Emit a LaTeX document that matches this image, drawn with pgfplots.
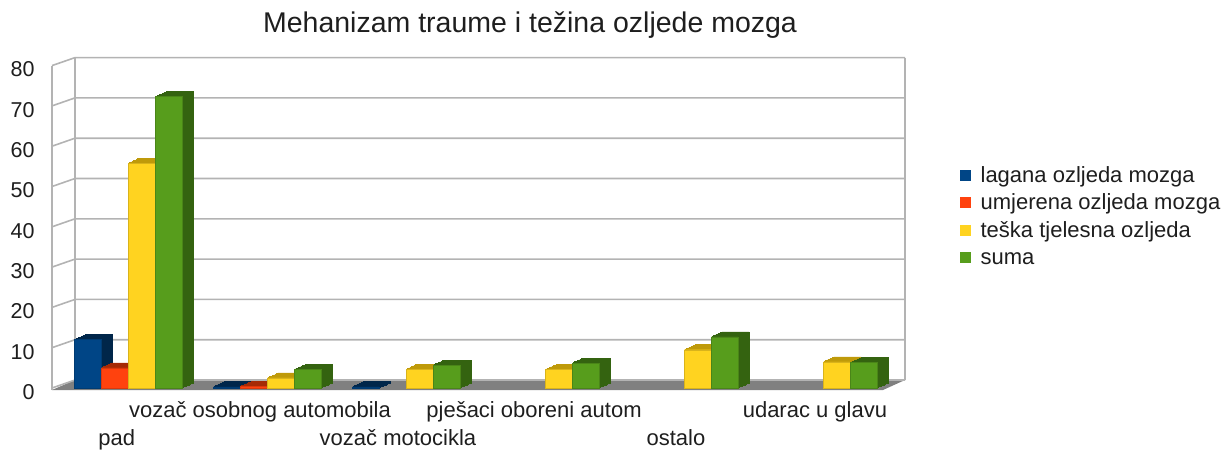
\documentclass[border=0pt]{standalone}
\usepackage{fontspec}
\setmainfont{Liberation Sans}
\usepackage{pgfplots}
\usepackage{pgfplotstable}
\pgfplotsset{compat=1.18}

\definecolor{cblue}{HTML}{004586}
\definecolor{cbluedk}{HTML}{00264A}
\definecolor{corange}{HTML}{FF420E}
\definecolor{corangedk}{HTML}{A52A06}
\definecolor{cyellow}{HTML}{FFD320}
\definecolor{cyellowdk}{HTML}{BF9A0A}
\definecolor{cgreen}{HTML}{579D1C}
\definecolor{cgreendk}{HTML}{346310}
\definecolor{cgrid}{HTML}{B3B3B3}
\definecolor{cfloor}{HTML}{808080}
\definecolor{ctext}{HTML}{1E1E1E}

% x: 0 pad, 1 vozac osobnog automobila, 2 vozac motocikla, 3 pjesaci oboreni autom, 4 ostalo, 5 udarac u glavu
\pgfplotstableread{
x y
0 12
1 0.3
2 0.3
}\lagana
\pgfplotstableread{
x y
0 5
1 0.4
}\umjerena
\pgfplotstableread{
x y
0 55.8
1 2.5
2 4.7
3 4.6
4 9.5
5 6.5
}\teska
\pgfplotstableread{
x y
0 72.3
1 4.6
2 5.7
3 6.2
4 12.7
5 6.3
}\suma

\newcommand{\barser}[5]{%
  \pgfplotsinvokeforeach{1,...,8}{%
    \addplot[forget plot, fill=#3, draw=#3, line width=0.6pt, bar shift=#4,
      xshift=##1*1.375pt, yshift=##1*0.625pt] table[x=x,y=y]{#1};}
  \addplot[fill=#2, draw=#2!85!black, line width=0.4pt, bar shift=#4,
    legend image code/.code={\fill[#2] (0pt,-3pt) rectangle (10pt,7pt);}]
    table[x=x,y=y]{#1};
  \addlegendentry{#5}
}
% wall grid line: front value, back value
\newcommand{\gl}[2]{\draw[cgrid, line width=1.6pt] (axis cs:-0.5468,#1) -- (axis cs:-0.3813,#2) -- (axis cs:5.5899,#2);}

\begin{document}
\begin{tikzpicture}
\begin{axis}[
  set layers,
  at={(52pt,68pt)}, anchor=south west,
  scale only axis,
  width=853pt, height=322.4pt,
  xmin=-0.5468, xmax=5.5899,
  ymin=0, ymax=80,
  clip=false,
  ybar, bar width=27pt,
  axis line style={draw=none},
  major tick length=0pt,
  ytick={0,10,...,80},
  /pgf/number format/assume math mode=true,
  yticklabel style={font=\fontsize{21.5}{25}\selectfont, text=ctext, xshift=-14pt, yshift=-4pt},
  xtick={0.95,2.921,4.942},
  xticklabels={vozač osobnog automobila, pješaci oboreni autom, udarac u glavu},
  extra x ticks={-0.081,1.942,3.942},
  extra x tick labels={pad, vozač motocikla, ostalo},
  xticklabel style={font=\fontsize{22}{26}\selectfont, text=ctext, anchor=base, yshift=-29pt},
  extra x tick style={xticklabel style={yshift=-28pt}},
  title={Mehanizam traume i težina ozljede mozga},
  title style={at={(0.5604,1.0856)}, anchor=base, font=\fontsize{28.5}{34}\selectfont, text=ctext},
  legend cell align=left,
  legend style={at={(1.0645,0.527)}, anchor=west, draw=none, fill=none,
    inner sep=0pt, font=\fontsize{22}{26}\selectfont, text=ctext, row sep=6.5pt,
    /tikz/every odd column/.append style={column sep=10pt},
    nodes={inner sep=0pt, text height=16pt, text depth=5pt}},
]
\begin{pgfonlayer}{axis background}
  \fill[cfloor] (axis cs:-0.5468,-0.496) -- (axis cs:5.4317,-0.496) -- (axis cs:5.5899,1.985) -- (axis cs:-0.3813,1.985) -- cycle;
  \gl{0}{1.985}
  \gl{10}{11.985}
  \gl{20}{21.985}
  \gl{30}{31.985}
  \gl{40}{41.985}
  \gl{50}{51.985}
  \gl{60}{61.985}
  \gl{70}{71.985}
  \gl{80}{81.985}
  \draw[cgrid, line width=1.6pt] (axis cs:-0.5468,-0.496) -- (axis cs:-0.5468,80);
  \draw[cgrid, line width=1.6pt] (axis cs:-0.3813,1.985) -- (axis cs:-0.3813,81.985);
  \draw[cgrid, line width=1.6pt] (axis cs:5.5899,1.985) -- (axis cs:5.5899,81.985);
\end{pgfonlayer}
\barser{\lagana}{cblue}{cbluedk}{-40.5pt}{lagana ozljeda mozga}
\barser{\umjerena}{corange}{corangedk}{-13.5pt}{umjerena ozljeda mozga}
\barser{\teska}{cyellow}{cyellowdk}{13.5pt}{teška tjelesna ozljeda}
\barser{\suma}{cgreen}{cgreendk}{40.5pt}{suma}
\end{axis}
\pgfresetboundingbox
\useasboundingbox (0,0) rectangle (1226pt,456pt);
\end{tikzpicture}
\end{document}
